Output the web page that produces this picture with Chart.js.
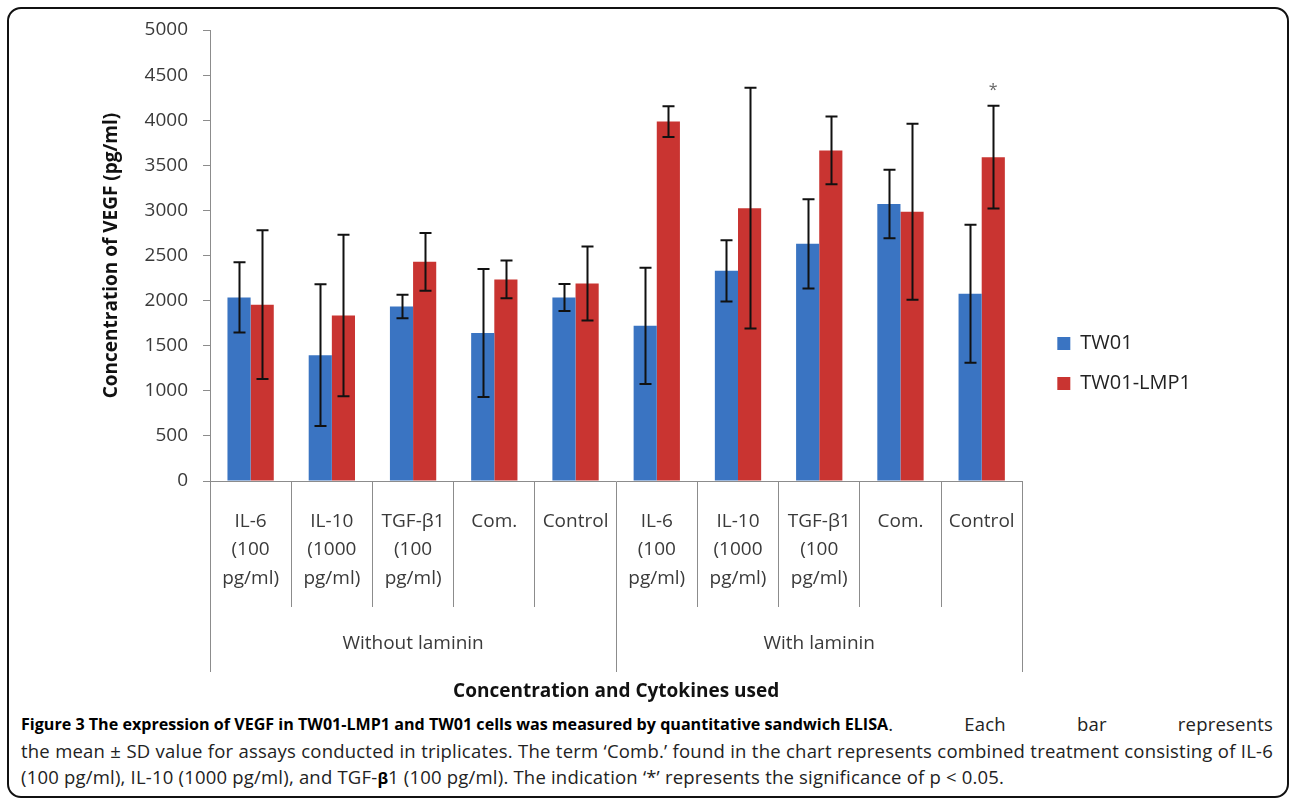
<!DOCTYPE html>
<html>
<head>
<meta charset="utf-8">
<script src="https://cdn.jsdelivr.net/npm/chart.js@4.4.1/dist/chart.umd.min.js"></script>
<style>
  body { margin: 0; background: #fff; width: 1289px; height: 801px; overflow: hidden; position: relative; font-family: "Open Sans", sans-serif; }
  #frame { position: absolute; left: 7px; top: 7px; width: 1282px; height: 791px; border: 2px solid #111; border-radius: 14px; box-sizing: border-box; }
  #wrap { position: absolute; left: 0; top: 0; width: 1289px; height: 705px; }
  #caption { position: absolute; left: 21px; top: 711px; width: 1252px; font-size: 18.5px; letter-spacing: 0.2px; line-height: 26.5px; color: #222; }
  #caption div { white-space: nowrap; }
  #caption .l1 { display: flex; }
  #caption .l1 span { flex: 1; text-align: justify; text-align-last: justify; white-space: normal; }
  #caption .j { text-align: justify; text-align-last: justify; white-space: normal; }
  #caption b { color: #000; font-size: 16.1px; letter-spacing: 0; }
</style>
</head>
<body>
<div id="frame"></div>
<div id="wrap"><canvas id="myChart" width="1289" height="705"></canvas></div>
<div id="caption">
  <div class="l1"><b>Figure 3 The expression of VEGF in TW01-LMP1 and TW01 cells was measured by quantitative sandwich ELISA</b><span>. Each bar represents</span></div>
  <div class="j">the mean &plusmn; SD value for assays conducted in triplicates. The term &lsquo;Comb.&rsquo; found in the chart represents combined treatment consisting of IL-6</div>
  <div>(100 pg/ml), IL-10 (1000 pg/ml), and TGF-<b>&beta;</b>1 (100 pg/ml). The indication &lsquo;*&rsquo; represents the significance of p &lt; 0.05.</div>
</div>
<script>
var categories = [
    ['IL-6', '(100', 'pg/ml)'], ['IL-10', '(1000', 'pg/ml)'], ['TGF-\u03b21', '(100', 'pg/ml)'], ['Com.'], ['Control'],
    ['IL-6', '(100', 'pg/ml)'], ['IL-10', '(1000', 'pg/ml)'], ['TGF-\u03b21', '(100', 'pg/ml)'], ['Com.'], ['Control']
];
var groups = ['Without laminin', 'With laminin'];
var groupSize = 5;

var tw01 = [2035, 1395, 1935, 1640, 2035, 1720, 2330, 2630, 3070, 2075];
var tw01Sd = [390, 785, 130, 710, 150, 645, 340, 495, 380, 765];
var lmp1 = [1955, 1835, 2430, 2235, 2190, 3985, 3025, 3665, 2985, 3590];
var lmp1Sd = [825, 895, 320, 210, 410, 170, 1335, 375, 975, 570];
// significance marks on the TW01-LMP1 bars
var lmp1Marks = ['', '', '', '', '', '', '', '', '', '*'];

var sds = [tw01Sd, lmp1Sd];
var marks = [null, lmp1Marks];

var lineGray = '#8c8c8c';
var textColor = '#3a3a3a';

// error bars + significance stars, drawn through the y scale
var errorBars = {
    id: 'errorBars',
    afterDatasetsDraw: function(chart) {
        var ctx = chart.ctx;
        var y = chart.scales.y;
        ctx.save();
        ctx.strokeStyle = '#111';
        ctx.lineWidth = 2;
        chart.data.datasets.forEach(function(ds, i) {
            chart.getDatasetMeta(i).data.forEach(function(bar, j) {
                var hi = y.getPixelForValue(ds.data[j] + sds[i][j]);
                var lo = y.getPixelForValue(ds.data[j] - sds[i][j]);
                var x = Math.round(bar.x) + 0.5;
                ctx.beginPath();
                ctx.moveTo(x, hi); ctx.lineTo(x, lo);
                ctx.moveTo(x - 6, hi); ctx.lineTo(x + 6, hi);
                ctx.moveTo(x - 6, lo); ctx.lineTo(x + 6, lo);
                ctx.stroke();
                if (marks[i] && marks[i][j]) {
                    ctx.fillStyle = '#666';
                    ctx.font = '16px "Open Sans"';
                    ctx.textAlign = 'center';
                    ctx.textBaseline = 'middle';
                    ctx.fillText(marks[i][j], bar.x, hi - 15);
                }
            });
        });
        ctx.restore();
    }
};

// second level of the category axis: group separators and group names
var groupAxis = {
    id: 'groupAxis',
    afterDraw: function(chart) {
        var ctx = chart.ctx;
        var x = chart.scales.x;
        var half = (x.getPixelForValue(1) - x.getPixelForValue(0)) / 2;
        var top = x.top + 126;
        var bottom = x.top + 191;
        ctx.save();
        ctx.strokeStyle = lineGray;
        ctx.lineWidth = 1;
        ctx.fillStyle = textColor;
        ctx.font = '19px "Open Sans"';
        ctx.textAlign = 'center';
        ctx.textBaseline = 'middle';
        for (var g = 0; g <= groups.length; g++) {
            var px = g === groups.length ? x.right : x.getPixelForValue(g * groupSize) - half;
            px = Math.round(px) + 0.5;
            ctx.beginPath();
            ctx.moveTo(px, top); ctx.lineTo(px, bottom);
            ctx.stroke();
        }
        groups.forEach(function(name, g) {
            var a = x.getPixelForValue(g * groupSize) - half;
            var b = x.getPixelForValue(g * groupSize + groupSize - 1) + half;
            ctx.fillText(name, (a + b) / 2, x.top + 163);
        });
        ctx.restore();
    }
};

var ctx = document.getElementById('myChart');
var myChart = new Chart(ctx, {
    type: 'bar',
    data: {
        labels: categories,
        datasets: [{
            label: 'TW01',
            data: tw01,
            backgroundColor: '#3a74c2'
        }, {
            label: 'TW01-LMP1',
            data: lmp1,
            backgroundColor: '#c93431'
        }]
    },
    options: {
        responsive: false,
        animation: false,
        layout: { padding: { left: 90, top: 30, right: 88, bottom: 8 } },
        datasets: { bar: { barPercentage: 1, categoryPercentage: 0.57 } },
        plugins: {
            tooltip: { enabled: false },
            legend: {
                position: 'right',
                labels: {
                    boxWidth: 13, boxHeight: 13,
                    padding: 20,
                    color: '#222',
                    font: { family: 'Open Sans', size: 20 }
                }
            }
        },
        scales: {
            x: {
                border: { color: lineGray },
                grid: { display: true, drawOnChartArea: false, offset: true, tickLength: 126, color: lineGray },
                ticks: {
                    padding: -100,
                    color: textColor,
                    maxRotation: 0,
                    autoSkip: false,
                    font: { family: 'Open Sans', size: 19, lineHeight: 1.5 }
                },
                title: {
                    display: true,
                    text: 'Concentration and Cytokines used',
                    color: '#111',
                    padding: { top: 0, bottom: -6 },
                    font: { family: 'Open Sans', size: 19, weight: 'bold' }
                },
                afterFit: function(scale) { scale.height = 216; }
            },
            y: {
                min: 0,
                max: 5000,
                border: { color: lineGray },
                grid: { drawOnChartArea: false, tickLength: 7, color: lineGray },
                ticks: {
                    stepSize: 500,
                    padding: 15,
                    color: textColor,
                    font: { family: 'Open Sans', size: 19 },
                    callback: function(v) { return String(v); }
                },
                title: {
                    display: true,
                    text: 'Concentration of VEGF (pg/ml)',
                    color: '#111',
                    padding: { top: 10, bottom: 0 },
                    font: { family: 'Open Sans', size: 19, weight: 'bold' }
                },
                afterFit: function(scale) { scale.width = 120; }
            },
            // empty spacer between the plot and the legend
            gap: {
                type: 'linear',
                position: 'right',
                ticks: { display: false },
                grid: { display: false },
                border: { display: false },
                afterFit: function(scale) { scale.width = 15; }
            }
        }
    },
    plugins: [errorBars, groupAxis]
});
</script>
</body>
</html>
